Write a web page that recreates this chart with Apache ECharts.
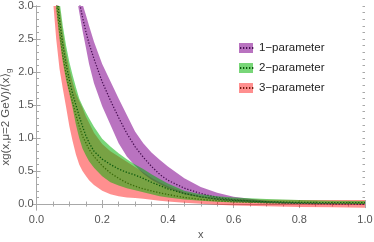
<!DOCTYPE html>
<html><head><meta charset="utf-8">
<script src="https://cdn.jsdelivr.net/npm/echarts@6/dist/echarts.min.js"></script>
<style>html,body{margin:0;padding:0;background:#fff}#c{width:374px;height:242px}</style>
</head><body><div id="c"></div>
<script>
// ---- data ----
const xs = [0.05,0.06,0.07,0.08,0.09,0.1,0.11,0.12,0.13,0.14,0.15,0.16,0.175,0.2,0.225,0.25,0.275,0.3,0.325,0.35,0.375,0.4,0.45,0.5,0.55,0.6,0.7,0.8,0.9,1.0];
// 1-parameter
const p1Lo = [null,null,null,null,null,null,null,3.2,2.91,2.63,2.38,2.12,1.83,1.48,1.2,0.92,0.72,0.58,0.46,0.37,0.3,0.24,0.15,0.1,0.06,0.04,0.015,0.005,0.001,0];
const p1Mid= [null,null,null,null,null,null,null,3.29,3.07,2.83,2.62,2.43,2.2,1.85,1.57,1.31,1.07,0.87,0.71,0.57,0.45,0.36,0.24,0.16,0.1,0.065,0.03,0.012,0.004,0];
const p1Hi = [null,null,null,null,null,null,null,3.37,3.2,3.03,2.87,2.7,2.46,2.12,1.86,1.6,1.35,1.1,0.92,0.78,0.67,0.57,0.39,0.26,0.17,0.11,0.05,0.02,0.007,0];
// 2-parameter
const p2Lo = [3.6,2.95,2.5,2.15,1.88,1.67,1.45,1.2,1.0,0.84,0.74,0.65,0.55,0.42,0.33,0.28,0.24,0.21,0.18,0.15,0.12,0.1,0.07,0.05,0.035,0.025,0.012,0.006,0.003,0];
const p2Mid= [4.0,3.25,2.8,2.42,2.12,1.88,1.67,1.5,1.33,1.18,1.04,0.93,0.8,0.68,0.6,0.53,0.48,0.44,0.39,0.33,0.28,0.23,0.16,0.11,0.075,0.055,0.035,0.025,0.022,0.02];
const p2Hi = [4.3,3.6,3.08,2.7,2.4,2.15,1.95,1.77,1.6,1.49,1.39,1.3,1.17,0.99,0.87,0.77,0.68,0.6,0.53,0.45,0.38,0.31,0.2,0.15,0.12,0.1,0.075,0.06,0.05,0.045];
// 3-parameter
const p3Lo = [3.1,2.5,2.05,1.75,1.47,1.18,0.95,0.75,0.6,0.5,0.43,0.36,0.29,0.2,0.15,0.12,0.1,0.09,0.08,0.065,0.05,0.04,0.02,0.005,-0.01,-0.02,-0.035,-0.045,-0.05,-0.055];
const p3Mid= [3.7,3.1,2.62,2.25,1.97,1.73,1.54,1.35,1.18,1.03,0.93,0.83,0.72,0.58,0.47,0.39,0.32,0.27,0.23,0.2,0.17,0.145,0.1,0.07,0.05,0.035,0.02,0.01,0.005,0];
const p3Hi = [4.0,3.4,3.0,2.6,2.29,2.05,1.85,1.68,1.56,1.46,1.33,1.23,1.08,0.91,0.8,0.72,0.64,0.56,0.48,0.4,0.33,0.27,0.18,0.12,0.09,0.075,0.065,0.06,0.06,0.06];
const names = ['1\u2212parameter','2\u2212parameter','3\u2212parameter'];
const xTicks = [0,0.2,0.4,0.6,0.8,1.0];
const yTicks = [0,0.5,1.0,1.5,2.0,2.5,3.0];
const yMinor = [0,0.1,0.2,0.3,0.4,0.5,0.6,0.7,0.8,0.9,1.0,1.1,1.2,1.3,1.4,1.5,1.6,1.7,1.8,1.9,2.0,2.1,2.2,2.3,2.4,2.5,2.6,2.7,2.8,2.9,3.0];

// ---- styles ----
const FONT = 'Liberation Sans, Arial, DejaVu Sans, sans-serif';
const frame = '#a8a8a8';
const bandCol = ['rgba(128,0,140,0.55)','rgba(0,178,0,0.53)','rgba(255,0,0,0.44)'];
const lineCol = ['#4a0f55','#0b5a0b','#7a1a10'];

function band(name, lo, hi, color, z) {
  const idx = [];
  xs.forEach((x,i)=>{ if (lo[i]!=null) idx.push(i); });
  return {
    type:'custom', name, coordinateSystem:'cartesian2d', clip:true, silent:true, z,
    itemStyle:{color},
    data: idx.map(i=>[xs[i], lo[i], hi[i]]),
    encode:{x:0, y:[1,2]},
    renderItem:(params, api)=>{
      if (params.dataIndex !== 0) return null;
      const top = idx.map(i=>api.coord([xs[i], hi[i]]));
      const bot = idx.map(i=>api.coord([xs[i], lo[i]])).reverse();
      return {type:'polygon', shape:{points: top.concat(bot)}, style:{fill: color}};
    }
  };
}
function mid(name, vals, color, z) {
  return {
    type:'line', name, showSymbol:false, symbol:'none', silent:true, z, clip:true,
    data: xs.map((x,i)=> vals[i]==null ? null : [x, vals[i]]).filter(d=>d),
    lineStyle:{color, width:1.3, type:[1.3,1.7]},
    itemStyle:{color}
  };
}

const axLab = {color:'#555', fontSize:11, fontFamily:FONT};
const option = {
  animation:false,
  grid:{left:36.5, right:9, top:6, bottom:32, containLabel:false, outerBoundsMode:'none'},
  legend:[
    {orient:'vertical', left:234, top:36, itemWidth:14, itemHeight:10, itemGap:6, icon:'rect',
     data:names, selectedMode:false,
     textStyle:{color:'#222', fontSize:11.5, fontFamily:FONT, lineHeight:14, padding:[0,0,0,1]}},
    {orient:'vertical', left:234, top:36, itemWidth:14, itemHeight:10, itemGap:6,
     data:['c1','c2','c3'], selectedMode:false, formatter:()=>' ',
     itemStyle:{opacity:0}, lineStyle:{opacity:1},
     textStyle:{fontSize:11.5, lineHeight:14}}
  ],
  xAxis:[
    {type:'value', min:0, max:1, interval:0.2, position:'bottom',
     name:'x', nameLocation:'middle', nameGap:19, nameMoveOverlap:false,
     nameTextStyle:{color:'#555', fontSize:11, fontFamily:FONT},
     axisLine:{lineStyle:{color:frame, width:1}},
     axisTick:{inside:true, length:4, lineStyle:{color:frame}},
     minorTick:{show:true, splitNumber:4, length:2.5, lineStyle:{color:frame}},
     splitLine:{show:false},
     axisLabel:Object.assign({margin:4, formatter:v=>v.toFixed(1)}, axLab)},
    {type:'value', min:0, max:1, interval:0.2, position:'top',
     axisLine:{lineStyle:{color:frame, width:1}},
     axisTick:{inside:true, length:4, lineStyle:{color:frame}},
     minorTick:{show:true, splitNumber:4, length:2.5, lineStyle:{color:frame}},
     splitLine:{show:false}, axisLabel:{show:false}}
  ],
  yAxis:[
    {type:'value', min:-0.09, max:3.0, position:'left',
     name:'{a|xg(x,\u03bc=2 GeV)/\u27e8x\u27e9}{b|g}{p|}', nameLocation:'middle', nameGap:24, nameMoveOverlap:false,
     nameTextStyle:{color:'#555', fontFamily:FONT, rich:{a:{fontSize:11.5, color:'#555', fontFamily:FONT}, b:{fontSize:8, color:'#555', fontFamily:FONT, padding:[6,0,0,0]}, p:{width:18}}},
     axisLine:{show:true, lineStyle:{color:frame, width:1}},
     axisTick:{show:true, inside:true, length:4, customValues:yTicks, lineStyle:{color:frame}},
     splitLine:{show:false},
     axisLabel:Object.assign({margin:3, customValues:yTicks, formatter:v=>v.toFixed(1)}, axLab)},
    {type:'value', min:-0.09, max:3.0, position:'right',
     axisLine:{show:true, lineStyle:{color:frame, width:1}},
     axisTick:{show:true, inside:true, length:4, customValues:yTicks, lineStyle:{color:frame}},
     splitLine:{show:false}, axisLabel:{show:false}},
    {type:'value', min:-0.09, max:3.0, position:'left',
     axisLine:{show:false},
     axisTick:{show:true, inside:true, length:2.5, customValues:yMinor, lineStyle:{color:frame}},
     splitLine:{show:false}, axisLabel:{show:false}},
    {type:'value', min:-0.09, max:3.0, position:'right',
     axisLine:{show:false},
     axisTick:{show:true, inside:true, length:2.5, customValues:yMinor, lineStyle:{color:frame}},
     splitLine:{show:false}, axisLabel:{show:false}}
  ],
  series:[
    band(names[2], p3Lo, p3Hi, bandCol[2], 2),
    mid('c3', p3Mid, lineCol[2], 3),
    band(names[0], p1Lo, p1Hi, bandCol[0], 4),
    mid('c1', p1Mid, lineCol[0], 5),
    band(names[1], p2Lo, p2Hi, bandCol[1], 6),
    mid('c2', p2Mid, lineCol[1], 7)
  ]
};
const chart = echarts.init(document.getElementById('c'), null, {renderer:'canvas'});
chart.setOption(option);
</script>
</body></html>
